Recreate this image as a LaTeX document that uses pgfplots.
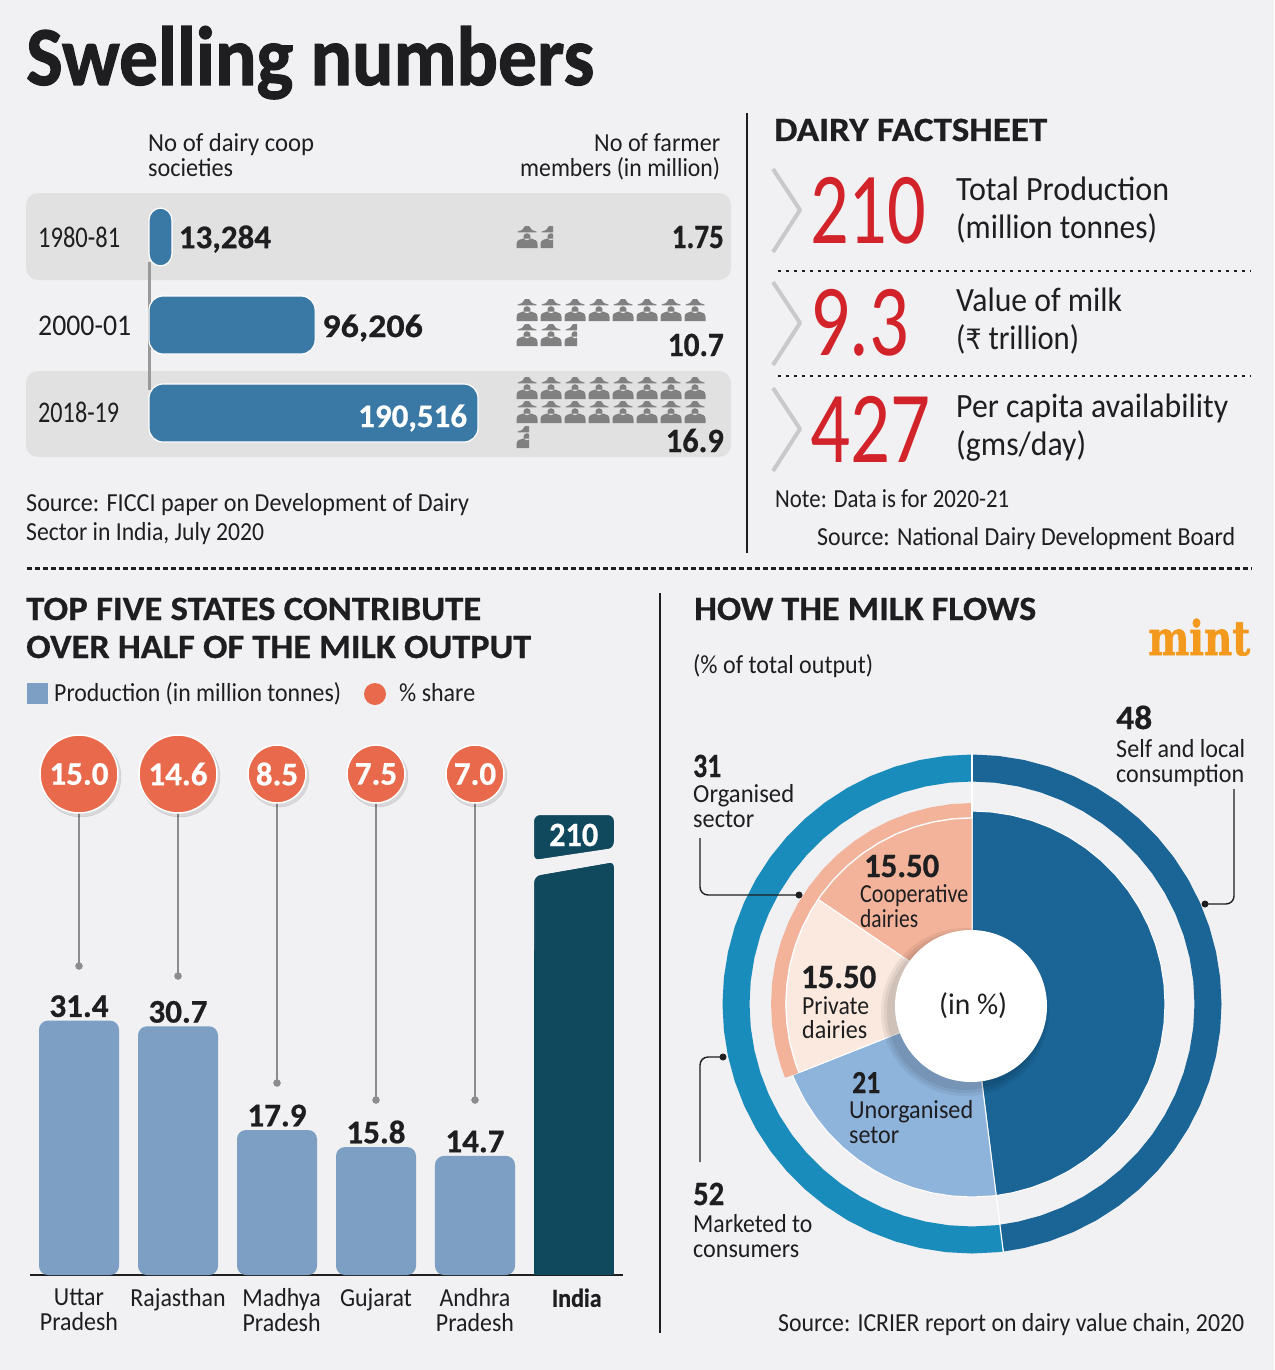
\documentclass[border=0pt]{standalone}
\usepackage{graphicx}
\usepackage{fontspec}
\usepackage{pgfplots}
\pgfplotsset{compat=1.18}
\setmainfont{Carlito}
\newfontfamily\heavy[UprightFont={* Bold},FakeBold=0.6]{Carlito}
\newfontfamily\titlefont[UprightFont={* Bold},FakeBold=1.4]{Carlito}
\newfontfamily\rupee{DejaVu Sans}
\newfontfamily\mintfont[UprightFont={* Bold},FakeBold=1.5]{DejaVu Serif}

\definecolor{bg}{HTML}{F1F1F3}
\definecolor{ink}{HTML}{1E1E20}
\definecolor{band}{HTML}{E1E1E2}
\definecolor{topbar}{HTML}{3A79A5}
\definecolor{icon}{HTML}{808080}
\definecolor{red}{HTML}{D2232A}
\definecolor{chev}{HTML}{C9C9CB}
\definecolor{stateblue}{HTML}{7C9FC3}
\definecolor{india}{HTML}{10485E}
\definecolor{coral}{HTML}{E8694B}
\definecolor{stem}{HTML}{8C8C8E}
\definecolor{ringl}{HTML}{1A8CBB}
\definecolor{ringr}{HTML}{1A6496}
\definecolor{unorg}{HTML}{8FB4DC}
\definecolor{peach}{HTML}{F3B39B}
\definecolor{pale}{HTML}{FBE9DF}
\definecolor{mint}{HTML}{F39A1E}

% x, baseline, size, width, text: all in reference pixels
\newcommand{\T}[6][base west]{\node[anchor=#1,inner sep=0pt,text=ink] at (#2,#3)
  {\fontsize{#4}{#4}\selectfont\resizebox{#5pt}{\height}{#6}};}

\pgfdeclareplotmark{farmer}{%
  \pgfpathmoveto{\pgfpoint{-9.5pt}{4.6pt}}
  \pgfpathlineto{\pgfpoint{-9.5pt}{5.4pt}}
  \pgfpathlineto{\pgfpoint{-5pt}{7pt}}
  \pgfpathlineto{\pgfpoint{-2pt}{11pt}}
  \pgfpathlineto{\pgfpoint{2pt}{11pt}}
  \pgfpathlineto{\pgfpoint{5pt}{7pt}}
  \pgfpathlineto{\pgfpoint{9.5pt}{5.4pt}}
  \pgfpathlineto{\pgfpoint{9.5pt}{4.6pt}}
  \pgfpathclose
  \pgfpathcircle{\pgfpoint{0pt}{0.2pt}}{3.6pt}
  \pgfpathmoveto{\pgfpoint{-10.5pt}{-11pt}}
  \pgfpathlineto{\pgfpoint{-10.5pt}{-7pt}}
  \pgfpathcurveto{\pgfpoint{-10.5pt}{-3pt}}{\pgfpoint{-7pt}{-2.5pt}}{\pgfpoint{-4pt}{-1.5pt}}
  \pgfpathlineto{\pgfpoint{4pt}{-1.5pt}}
  \pgfpathcurveto{\pgfpoint{7pt}{-2.5pt}}{\pgfpoint{10.5pt}{-3pt}}{\pgfpoint{10.5pt}{-7pt}}
  \pgfpathlineto{\pgfpoint{10.5pt}{-11pt}}
  \pgfpathclose
  \pgfusepathqfill}
\pgfdeclareplotmark{farmerpart}{%
  \begin{pgfscope}
  \pgfpathrectanglecorners{\pgfpoint{-12pt}{-12pt}}{\pgfpoint{2pt}{12pt}}
  \pgfusepathqclip
  \pgfuseplotmark{farmer}
  \end{pgfscope}}

\pgfplotsset{
  canvas/.style={scale only axis, hide axis, clip=false, anchor=south west},
  /pgf/number format/assume math mode=true,
}
\tikzset{px/.style={x=1pt,y=-1pt}}

\begin{document}
\begin{tikzpicture}
\begin{scope}[px]
\fill[bg] (0,0) rectangle (1274,1370);
\path[use as bounding box] (0,0) rectangle (1274,1370);

\T{26}{85}{84}{568}{\titlefont Swelling numbers}

% coop table
\fill[band,rounded corners=12pt] (26,193) rectangle (731,280);
\fill[band,rounded corners=12pt] (26,371) rectangle (731,457);
\draw[icon!80,line width=3pt] (149,262) -- (149,390);
\T{148}{151}{26}{166}{No of dairy coop}
\T{148}{176}{26}{85}{societies}
\T{594}{151}{26}{126}{No of farmer}
\T{520}{176}{26}{200}{members (in million)}
\T{38}{247}{30}{82}{1980-81}
\T{38}{335}{30}{93}{2000-01}
\T{38}{422}{30}{81}{2018-19}
\T[base east]{724}{248}{34}{52}{\heavy 1.75}
\T[base east]{724}{356}{34}{56}{\heavy 10.7}
\T[base east]{724}{452}{34}{58}{\heavy 16.9}
\T{26}{511}{26}{443}{Source: FICCI paper on Development of Dairy}
\T{26}{540}{26}{238}{Sector in India, July 2020}
\coordinate (aCoop) at (149,457);
\coordinate (aIcons) at (515,457);
\end{scope}

\begin{axis}[canvas, at={(aCoop)}, width=329pt, height=264pt,
    xmin=0, xmax=190516, ymin=-0.5, ymax=2.5, y dir=reverse,
    nodes near coords={\pgfmathprintnumber[fixed,precision=0,1000 sep={,}]{\pgfplotspointmeta}},
    point meta=x,
    nodes near coords style={font=\fontsize{33}{33}\selectfont\heavy,text=ink,anchor=west,xshift=3pt}]
\addplot[xbar, bar shift=0pt, bar width=58pt, fill=topbar, draw=white, line width=1.2pt, rounded corners=12pt,
    nodes near coords style={yshift=-2pt}]
  coordinates {(13284,0)};
\addplot[xbar, bar shift=0pt, bar width=58pt, fill=topbar, draw=white, line width=1.2pt, rounded corners=14pt,
    nodes near coords style={yshift=-3pt,xscale=1.09}]
  coordinates {(96206,1)};
\addplot[xbar, bar shift=0pt, bar width=58pt, fill=topbar, draw=white, line width=1.2pt, rounded corners=14pt,
    nodes near coords style={text=white,anchor=east,xshift=-10pt,yshift=-5pt}]
  coordinates {(190516,2)};
\end{axis}

% one mark per million farmers, the last one cut
\begin{axis}[canvas, at={(aIcons)}, width=192pt, height=257pt,
    xmin=0, xmax=8, ymin=200, ymax=457, y dir=reverse]
\addplot[only marks, mark=farmer, color=icon] coordinates {
  (0.5,237)
  (0.5,310)(1.5,310)(2.5,310)(3.5,310)(4.5,310)(5.5,310)(6.5,310)(7.5,310)
  (0.5,335)(1.5,335)
  (0.5,388)(1.5,388)(2.5,388)(3.5,388)(4.5,388)(5.5,388)(6.5,388)(7.5,388)
  (0.5,412)(1.5,412)(2.5,412)(3.5,412)(4.5,412)(5.5,412)(6.5,412)(7.5,412)
};
\addplot[only marks, mark=farmerpart, color=icon] coordinates {(1.5,237)(2.5,335)(0.5,437)};
\end{axis}

\begin{scope}[px]
% factsheet
\draw[ink,line width=2pt] (747,113) -- (747,553);
\T{774}{141}{34}{273}{\heavy DAIRY FACTSHEET}
\foreach \cy in {210,323,429}
  \draw[chev,line width=4pt,line join=round] (773,\cy-41) -- (800,\cy) -- (773,\cy+42);
\draw[ink,line width=2pt,dash pattern=on 3pt off 5pt] (778,270.5) -- (1251,270.5);
\draw[ink,line width=2pt,dash pattern=on 3pt off 5pt] (778,375.5) -- (1251,375.5);
\T{810}{243}{102}{116}{\color{red}210}
\T{810}{355}{102}{99}{\color{red}9.3}
\T{810}{462}{102}{120}{\color{red}427}
\T{956}{200}{34}{213}{Total Production}
\T{956}{238}{34}{201}{(million tonnes)}
\T{956}{311}{34}{166}{Value of milk}
\T{956}{349}{34}{123}{({\rupee\fontsize{28}{28}\selectfont ₹} trillion)}
\T{956}{417}{34}{272}{Per capita availability}
\T{956}{455}{34}{130}{(gms/day)}
\T{775}{507}{26}{234}{Note: Data is for 2020-21}
\T{817}{545}{26}{418}{Source: National Dairy Development Board}

% separators
\draw[ink,line width=3pt,dash pattern=on 5pt off 3pt] (27,568) -- (1252,568);
\draw[ink,line width=2pt] (660,593) -- (660,1333);

% states: heading and legend
\T{26}{620}{34}{455}{\heavy TOP FIVE STATES CONTRIBUTE}
\T{26}{658}{34}{505}{\heavy OVER HALF OF THE MILK OUTPUT}
\fill[stateblue] (27,683) rectangle (48,704);
\T{54}{701}{26}{287}{Production (in million tonnes)}
\fill[coral] (375,694) circle (11);
\T{399}{701}{26}{76}{\% share}
\coordinate (aStates) at (30,1275);
\end{scope}

\begin{axis}[at={(aStates)}, anchor=south west, scale only axis, width=593pt, height=460pt,
    xmin=-0.495, xmax=5.495, ymin=0, ymax=56.79,
    axis x line=bottom, axis y line=none, axis line style={-,ink,line width=1.6pt},
    xtick={0,...,5}, major tick length=0pt,
    xticklabels={Uttar\\Pradesh,Rajasthan,\hspace*{10pt}Madhya\\\hspace*{10pt}Pradesh,Gujarat,Andhra\\Pradesh,\hspace*{6pt}{\heavy India}},
    xticklabel style={align=center,text=ink,font=\fontsize{26}{25}\selectfont,anchor=north,yshift=-10pt,xscale=.92},
    nodes near coords style={font=\fontsize{33}{33}\selectfont\heavy,text=ink,/pgf/number format/fixed,/pgf/number format/fixed zerofill,/pgf/number format/precision=1}]
\addplot[ybar, bar shift=0pt, bar width=80pt, fill=stateblue, draw=none, rounded corners=9pt,
    nodes near coords, point meta=y] coordinates {
  (0,31.4) (1,30.7) (2,17.9) (3,15.8) (4,14.7)};
\addplot[ybar, bar shift=0pt, bar width=80pt, fill=india, draw=none] coordinates {(5,210)};
\end{axis}

% % share bubbles: y in the picture's pixels, the share as point meta
\begin{axis}[canvas, at={(aStates)}, width=593pt, height=575pt,
    xmin=-0.495, xmax=5.495, ymin=700, ymax=1275, y dir=reverse,
    nodes near coords style={font=\fontsize{33}{33}\selectfont\heavy,text=white,anchor=center}]
\addplot[stem, line width=1.6pt, unbounded coords=jump] coordinates {
  (0,774)(0,966) (0,nan)
  (1,774)(1,976) (1,nan)
  (2,774)(2,1083) (2,nan)
  (3,774)(3,1100) (3,nan)
  (4,774)(4,1100)};
\addplot[only marks, mark=*, mark size=3.5pt, color=stem] coordinates {
  (0,966)(1,976)(2,1083)(3,1100)(4,1100)};
\addplot[only marks, mark=*, mark size=40pt, mark options={draw=none,fill=black,opacity=.10,xshift=2pt,yshift=-3pt}]
  coordinates {(0,774)(1,774)};
\addplot[only marks, mark=*, mark size=30pt, mark options={draw=none,fill=black,opacity=.10,xshift=2pt,yshift=-3pt}]
  coordinates {(2,774)(3,774)(4,774)};
\addplot[only marks, mark=*, mark size=39pt, mark options={fill=coral,draw=white,line width=1.5pt},
    nodes near coords, point meta=explicit symbolic] coordinates {
  (0,774)[15.0] (1,774)[14.6]};
\addplot[only marks, mark=*, mark size=29pt, mark options={fill=coral,draw=white,line width=1.5pt},
    nodes near coords, point meta=explicit symbolic] coordinates {
  (2,774)[8.5] (3,774)[7.5] (4,774)[7.0]};
\end{axis}

\begin{scope}[px]
% break in the India bar
\fill[bg] (528,860.9) -- (620,847.1) -- (620,861) -- (528,877) -- cycle;
\draw[bg,line width=8pt,rounded corners=10pt] (530,950) -- (530,872.5) -- (618,857) -- (618,950);
\draw[bg,line width=8pt,rounded corners=10pt] (530,811) -- (618,811) -- (618,852) -- (530,865) -- cycle;
\T{549}{846}{34}{49}{\color{white}\heavy 210}

% flows: headings
\T{694}{620}{34}{342}{\heavy HOW THE MILK FLOWS}
\T{693}{673}{26}{180}{(\% of total output)}
\T{1148}{655}{48}{102}{\color{mint}\mintfont mint}
\coordinate (aFlow) at (972,1004);
\end{scope}

\begin{axis}[canvas, anchor=center, at={(aFlow)}, width=500pt, height=500pt,
    xmin=-250, xmax=250, ymin=-250, ymax=250]
% marketed 52
\addplot[data cs=polar, ringl, line width=27pt] coordinates {
  (90,236)(96,236)(102,236)(108,236)(114,236)(120,236)(126,236)(132,236)(138,236)(144,236)(150,236)
  (156,236)(162,236)(168,236)(174,236)(180,236)(186,236)(192,236)(198,236)(204,236)(210,236)(216,236)
  (222,236)(228,236)(234,236)(240,236)(246,236)(252,236)(258,236)(264,236)(270,236)(276,236)(277.2,236)};
% self and local 48
\addplot[data cs=polar, ringr, line width=27pt] coordinates {
  (90,236)(84,236)(78,236)(72,236)(66,236)(60,236)(54,236)(48,236)(42,236)(36,236)(30,236)(24,236)
  (18,236)(12,236)(6,236)(0,236)(-6,236)(-12,236)(-18,236)(-24,236)(-30,236)(-36,236)(-42,236)(-48,236)
  (-54,236)(-60,236)(-66,236)(-72,236)(-78,236)(-82.8,236)};
\addplot[data cs=polar, fill=ringr, draw=white, line width=1pt] coordinates {
  (0,0)(90,193)(84,193)(78,193)(72,193)(66,193)(60,193)(54,193)(48,193)(42,193)(36,193)(30,193)(24,193)
  (18,193)(12,193)(6,193)(0,193)(-6,193)(-12,193)(-18,193)(-24,193)(-30,193)(-36,193)(-42,193)(-48,193)
  (-54,193)(-60,193)(-66,193)(-72,193)(-78,193)(-82.8,193)} -- cycle;
% unorganised 21
\addplot[data cs=polar, fill=unorg, draw=white, line width=1pt] coordinates {
  (0,0)(201.6,193)(204,193)(210,193)(216,193)(222,193)(228,193)(234,193)(240,193)(246,193)(252,193)
  (258,193)(264,193)(270,193)(276,193)(277.2,193)} -- cycle;
% organised band
\addplot[data cs=polar, peach, line width=14pt] coordinates {
  (90,194)(96,194)(102,194)(108,194)(114,194)(120,194)(126,194)(132,194)(138,194)(144,194)(150,194)
  (156,194)(162,194)(168,194)(174,194)(180,194)(186,194)(192,194)(198,194)(201.6,194)};
% cooperative 15.5
\addplot[data cs=polar, fill=peach, draw=white, line width=1pt] coordinates {
  (0,0)(90,186)(96,186)(102,186)(108,186)(114,186)(120,186)(126,186)(132,186)(138,186)(144,186)(145.8,186)} -- cycle;
% private 15.5
\addplot[data cs=polar, fill=pale, draw=white, line width=1pt] coordinates {
  (0,0)(145.8,186)(150,186)(156,186)(162,186)(168,186)(174,186)(180,186)(186,186)(192,186)(198,186)(201.6,186)} -- cycle;
\addplot[data cs=polar, white, line width=1.2pt] coordinates {(90,186)(90,250)};
\addplot[data cs=polar, white, line width=1.2pt] coordinates {(277.2,193)(277.2,250)};
\end{axis}

\begin{scope}[px]
\foreach \r in {84,81,78}
  \fill[black,opacity=.06] (965,1012) circle (\r);
\fill[white] (971,1006) circle (76);
\T{939}{1014}{30}{68}{(in \%)}

\T{1116}{729}{34}{36}{\heavy 48}
\T{1116}{757}{26}{129}{Self and local}
\T{1116}{782}{26}{128}{consumption}
\T{693}{777}{34}{28}{\heavy 31}
\T{693}{802}{26}{101}{Organised}
\T{693}{827}{26}{61}{sector}
\T{864}{877}{34}{75}{\heavy 15.50}
\T{860}{902}{26}{108}{Cooperative}
\T{860}{927}{26}{58}{dairies}
\T{801}{988}{34}{75}{\heavy 15.50}
\T{802}{1014}{26}{67}{Private}
\T{802}{1038}{26}{65}{dairies}
\T{852}{1093}{32}{28}{\heavy 21}
\T{849}{1118}{26}{124}{Unorganised}
\T{849}{1143}{26}{50}{setor}
\T{693}{1205}{34}{31}{\heavy 52}
\T{693}{1232}{26}{119}{Marketed to}
\T{693}{1257}{26}{106}{consumers}
\T{778}{1331}{26}{466}{Source: ICRIER report on dairy value chain, 2020}

% callouts
\draw[ink,line width=1.4pt,rounded corners=8pt] (700,838) -- (700,895) -- (799,895);
\fill[ink] (799,895) circle (3.5);
\draw[ink,line width=1.4pt,rounded corners=8pt] (1234,789) -- (1234,904) -- (1205,904);
\fill[ink] (1205,904) circle (3.5);
\draw[ink,line width=1.4pt,rounded corners=8pt] (723,1057) -- (700,1057) -- (700,1162);
\fill[ink] (723,1057) circle (3.5);
\end{scope}
\end{tikzpicture}
\end{document}
